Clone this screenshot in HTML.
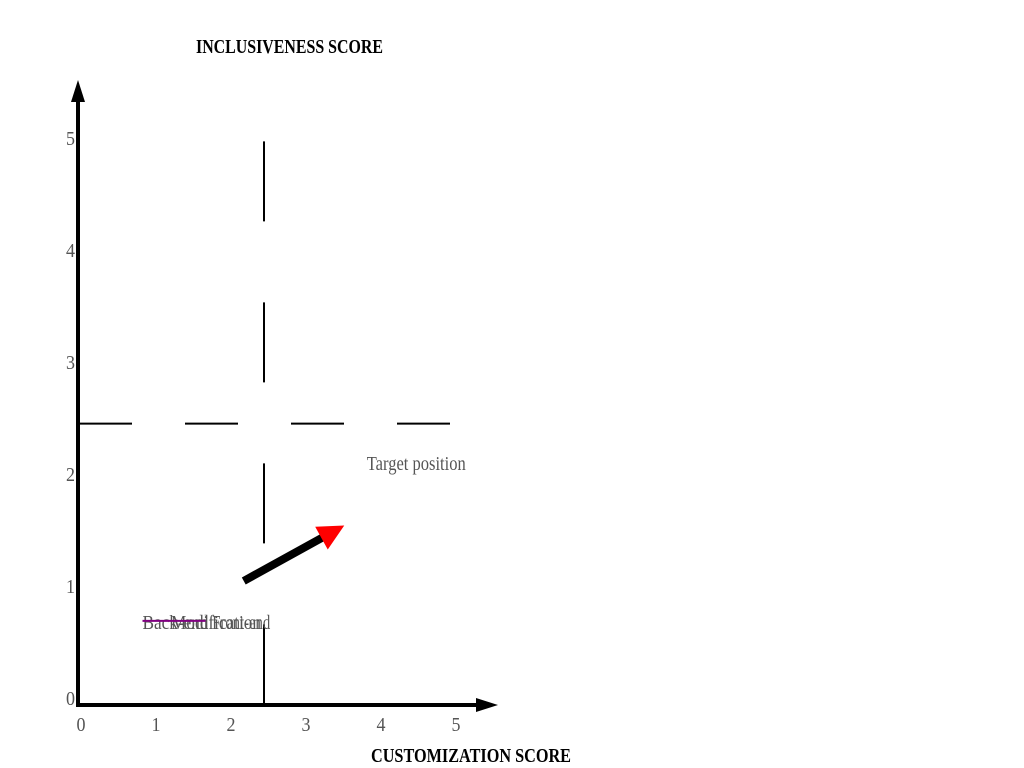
<!DOCTYPE html>
<html><head><meta charset="utf-8"><style>html,body{margin:0;padding:0;background:#fff;width:1024px;height:768px;overflow:hidden}</style></head>
<body>
<svg id="chart" width="1024" height="768" xmlns="http://www.w3.org/2000/svg" font-family="Liberation Serif, serif">
<text x="196" y="53" font-size="20" font-weight="bold" textLength="187" lengthAdjust="spacingAndGlyphs">INCLUSIVENESS SCORE</text>
<text x="371" y="762" font-size="20" font-weight="bold" textLength="200" lengthAdjust="spacingAndGlyphs">CUSTOMIZATION SCORE</text>
<g id="ticks"></g>
<g id="marks"></g>
<line x1="78" y1="706" x2="78" y2="96" stroke="#000" stroke-width="4"/>
<polygon points="78,80 71,102 85,102" fill="#000"/>
<line x1="76" y1="705" x2="482" y2="705" stroke="#000" stroke-width="4"/>
<polygon points="498,705 476,698 476,712" fill="#000"/>
</svg>
<script>
const xTicks = [0,1,2,3,4,5];
const yTicks = [0,1,2,3,4,5];
const vLineX = [2.44];
const hLineY = [2.45];
const arrowStart = [2.17, 1.045];
const arrowEnd = [3.51, 1.54];
const labelNames = ["Back-end","Modification","Front-end"];
const labelX = [0.82, 1.2, 1.75];
const labelY = [0.68, 0.68, 0.68];
const labelWidths = [66, 90, 58];
const targetLabel = ["Target position", 4.47, 2.1];

const X = v => 81 + v*75;
const Y = v => 698 - v*112;
const NS = "http://www.w3.org/2000/svg";
const ticks = document.getElementById('ticks');
const marks = document.getElementById('marks');
function mk(tag, attrs, parent){const e=document.createElementNS(NS,tag);for(const k in attrs)e.setAttribute(k,attrs[k]);parent.appendChild(e);return e;}
xTicks.forEach(t=>{
  const e=mk('text',{x:X(t),y:731,'font-size':20,fill:'#555','text-anchor':'middle',textLength:9,lengthAdjust:'spacingAndGlyphs'},ticks);
  
  
  e.textContent=t;
});
yTicks.forEach(t=>{
  const e=mk('text',{x:75,y:Y(t)+7,'font-size':20,fill:'#555','text-anchor':'end',textLength:9,lengthAdjust:'spacingAndGlyphs'},ticks);
  
  
  e.textContent=t;
});
vLineX.forEach(v=>{
  const e=mk('line',{x1:X(v),y1:Y(4.97),x2:X(v),y2:705,stroke:'#000','stroke-width':2,'stroke-dasharray':'80 81'},marks);
  
  
});
hLineY.forEach(v=>{
  const e=mk('line',{x1:79,y1:Y(v),x2:X(4.96),y2:Y(v),stroke:'#000','stroke-width':2,'stroke-dasharray':'53 53'},marks);
  
  
});
{
  const x1=X(arrowStart[0]),y1=Y(arrowStart[1]),x2=X(arrowEnd[0]),y2=Y(arrowEnd[1]);
  const a=Math.atan2(y2-y1,x2-x1), hl=26, hw=13;
  const bx=x2-hl*Math.cos(a), by=y2-hl*Math.sin(a);
  const s=mk('line',{x1:x1,y1:y1,x2:bx+3*Math.cos(a),y2:by+3*Math.sin(a),stroke:'#000','stroke-width':8},marks);
  
  
  const px=-Math.sin(a), py=Math.cos(a);
  const h=mk('polygon',{points:`${x2},${y2} ${bx+px*hw},${by+py*hw} ${bx-px*hw},${by-py*hw}`,fill:'#f00'},marks);
  
  
}
labelNames.forEach((n,i)=>{
  const e=mk('text',{x:X(labelX[i]),y:Y(labelY[i])+7,'font-size':20,fill:'#555',textLength:labelWidths[i],lengthAdjust:'spacingAndGlyphs'},marks);
  
  
  e.textContent=n;
});
{
  const l=mk('line',{x1:X(labelX[0]),y1:Y(labelY[0])-1,x2:X(labelX[0])+63,y2:Y(labelY[0])-1,stroke:'#800080','stroke-width':2},marks);
  
  
  const t=mk('text',{x:X(targetLabel[1]),y:Y(targetLabel[2])+7,'font-size':20,fill:'#555','text-anchor':'middle',textLength:99,lengthAdjust:'spacingAndGlyphs'},marks);
  
  
  t.textContent=targetLabel[0];
}
</script>
</body></html>
